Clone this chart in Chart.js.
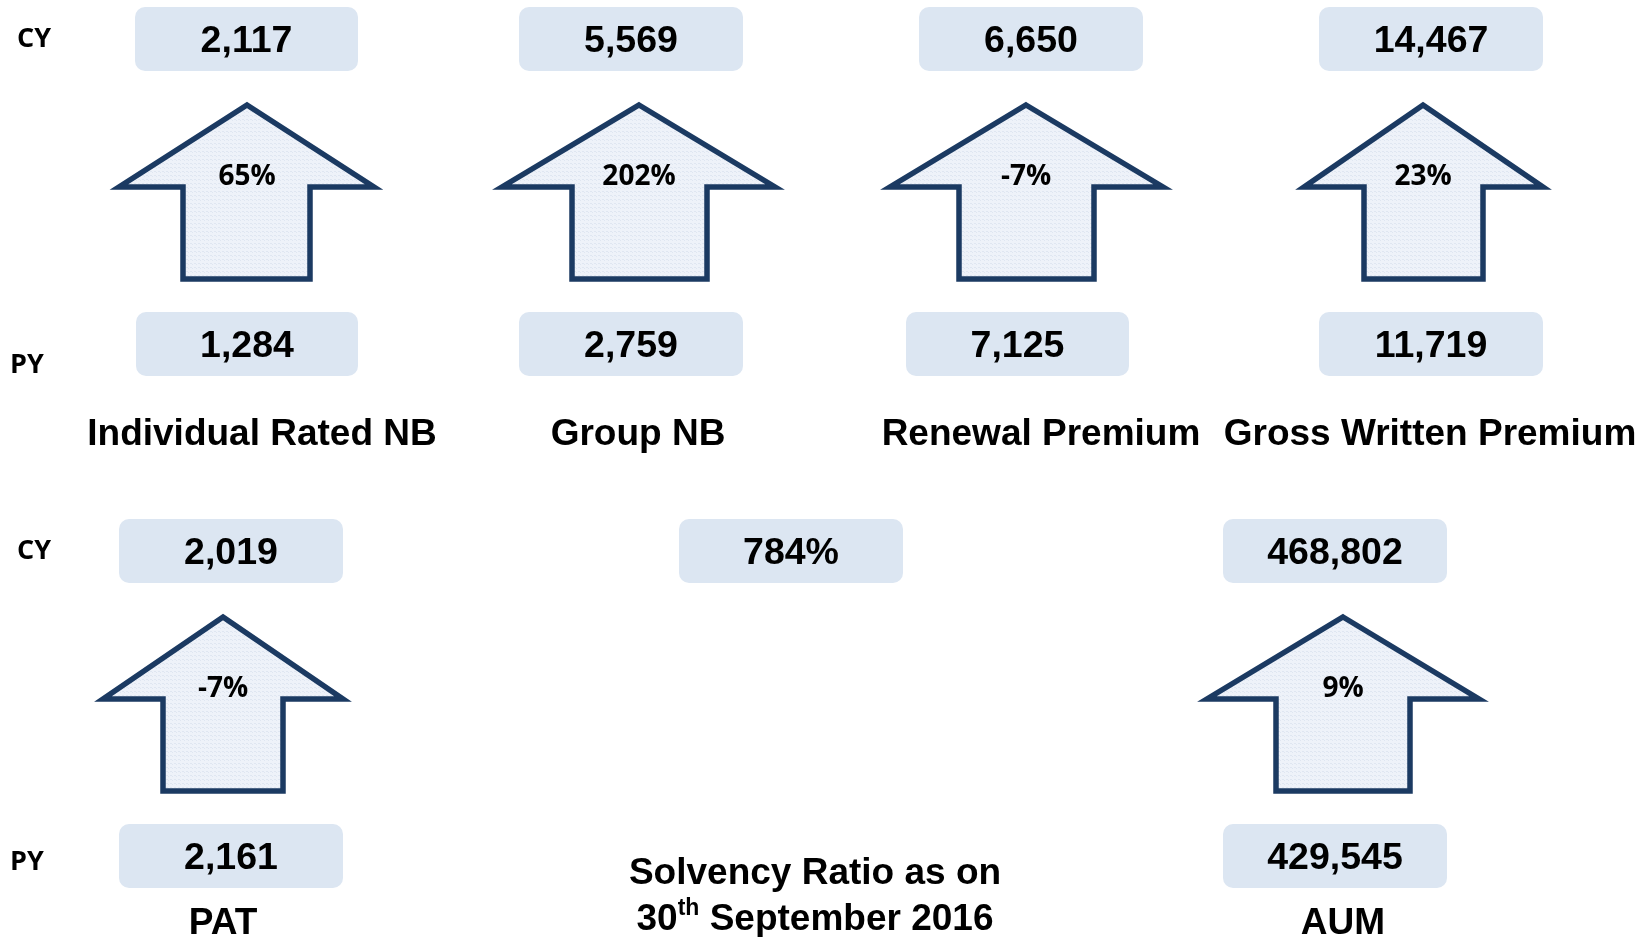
<!DOCTYPE html>
<html>
<head>
<meta charset="utf-8">
<script src="https://cdn.jsdelivr.net/npm/chart.js@4"></script>
<style>
  body { margin: 0; background: #fff; }
  #wrap { width: 1648px; height: 937px; }
</style>
</head>
<body>
<div id="wrap"><canvas id="kpi" width="1648" height="937"></canvas></div>
<script>
// Data
const metrics = ['Individual Rated NB', 'Group NB', 'Renewal Premium', 'Gross Written Premium', 'PAT', 'Solvency', 'AUM'];
const cyValues = [2117, 5569, 6650, 14467, 2019, null, 468802];
const pyValues = [1284, 2759, 7125, 11719, 2161, null, 429545];
const growthPct = [65, 202, -7, 23, -7, null, 9];
const solvencyRatio = 784;
const solvencyTitle = ['Solvency Ratio as on', '30', 'th', ' September 2016'];
const rowLabels = ['CY', 'PY'];

// Layout (page units, mapped through the hidden x/y scales)
const rows = [
  { cyTop: 7, pyTop: 312, tip: 105, headBase: 187, bottom: 279, titleY: 435, cyLab: 39, pyLab: 365 },
  { cyTop: 519, pyTop: 824, tip: 617, headBase: 699, bottom: 791, titleY: 924, cyLab: 551, pyLab: 862 }
];
const panels = [
  { row: 0, cy: [135, 358], py: [136, 358], tip: 247, head: [119, 374], shaft: [183, 310], titleX: 262 },
  { row: 0, cy: [519, 743], py: [519, 743], tip: 639, head: [502, 775], shaft: [572, 707], titleX: 638 },
  { row: 0, cy: [919, 1143], py: [906, 1129], tip: 1026, head: [890, 1163], shaft: [959, 1094], titleX: 1041 },
  { row: 0, cy: [1319, 1543], py: [1319, 1543], tip: 1423, head: [1304, 1543], shaft: [1364, 1483], titleX: 1430 },
  { row: 1, cy: [119, 343], py: [119, 343], tip: 223, head: [103, 343], shaft: [163, 283], titleX: 223 },
  { row: 1, cy: [679, 903], py: null, tip: null, titleX: 815 },
  { row: 1, cy: [1223, 1447], py: [1223, 1447], tip: 1343, head: [1207, 1479], shaft: [1276, 1410], titleX: 1343 }
];
const BOX_H = 64;
const ARIAL = '"Liberation Sans", Arial, sans-serif';

const fmt = v => v.toLocaleString('en-US');

function makePattern(ctx) {
  const c = document.createElement('canvas');
  c.width = 4; c.height = 4;
  const p = c.getContext('2d');
  p.fillStyle = '#eef2f9';
  p.fillRect(0, 0, 4, 4);
  p.fillStyle = '#dfe6f1';
  p.fillRect(0, 0, 1, 1);
  p.fillRect(2, 3, 4, 1);
  return ctx.createPattern(c, 'repeat');
}

const infographic = {
  id: 'infographic',
  afterDraw(chart) {
    const ctx = chart.ctx;
    const X = v => chart.scales.x.getPixelForValue(v);
    const Y = v => chart.scales.y.getPixelForValue(v);
    const pattern = makePattern(ctx);

    function box(x0, x1, top, text) {
      ctx.fillStyle = '#dce6f2';
      ctx.beginPath();
      ctx.roundRect(X(x0), Y(top), X(x1) - X(x0), Y(top + BOX_H) - Y(top), 10);
      ctx.fill();
      ctx.fillStyle = '#000';
      ctx.font = 'bold 37.5px ' + ARIAL;
      ctx.textAlign = 'center';
      ctx.textBaseline = 'middle';
      ctx.fillText(text, X((x0 + x1) / 2), Y(top + BOX_H / 2 + 3));
    }

    ctx.save();
    // CY / PY row labels
    ctx.fillStyle = '#000';
    ctx.font = 'bold 27px "Open Sans", sans-serif';
    ctx.textAlign = 'left';
    ctx.textBaseline = 'middle';
    rows.forEach(r => {
      ctx.fillText(rowLabels[0], X(17), Y(r.cyLab));
      ctx.fillText(rowLabels[1], X(10), Y(r.pyLab));
    });

    panels.forEach((p, i) => {
      const r = rows[p.row];
      if (cyValues[i] !== null) box(p.cy[0], p.cy[1], r.cyTop, fmt(cyValues[i]));
      else box(p.cy[0], p.cy[1], r.cyTop, solvencyRatio + '%');
      if (p.py) box(p.py[0], p.py[1], r.pyTop, fmt(pyValues[i]));

      if (p.tip !== null) {
        ctx.beginPath();
        ctx.moveTo(X(p.tip), Y(r.tip));
        ctx.lineTo(X(p.head[1]), Y(r.headBase));
        ctx.lineTo(X(p.shaft[1]), Y(r.headBase));
        ctx.lineTo(X(p.shaft[1]), Y(r.bottom));
        ctx.lineTo(X(p.shaft[0]), Y(r.bottom));
        ctx.lineTo(X(p.shaft[0]), Y(r.headBase));
        ctx.lineTo(X(p.head[0]), Y(r.headBase));
        ctx.closePath();
        ctx.fillStyle = pattern;
        ctx.fill();
        ctx.lineWidth = 5.5;
        ctx.lineJoin = 'miter';
        ctx.strokeStyle = '#1b3a62';
        ctx.stroke();

        ctx.fillStyle = '#000';
        ctx.font = 'bold 28px "Open Sans", sans-serif';
        ctx.textAlign = 'center';
        ctx.textBaseline = 'middle';
        ctx.fillText(growthPct[i] + '%', X(p.tip), Y(r.headBase - 10));
      }

      // titles
      ctx.fillStyle = '#000';
      ctx.font = 'bold 37px ' + ARIAL;
      ctx.textBaseline = 'middle';
      if (metrics[i] === 'Solvency') {
        ctx.textAlign = 'center';
        ctx.fillText(solvencyTitle[0], X(p.titleX), Y(874));
        const big = 'bold 37px ' + ARIAL;
        const sup = 'bold 23px ' + ARIAL;
        ctx.font = big;
        const w1 = ctx.measureText(solvencyTitle[1]).width;
        const w3 = ctx.measureText(solvencyTitle[3]).width;
        ctx.font = sup;
        const w2 = ctx.measureText(solvencyTitle[2]).width;
        let x = X(p.titleX) - (w1 + w2 + w3) / 2;
        ctx.textAlign = 'left';
        ctx.font = big;
        ctx.fillText(solvencyTitle[1], x, Y(920));
        ctx.font = sup;
        ctx.fillText(solvencyTitle[2], x + w1, Y(909));
        ctx.font = big;
        ctx.fillText(solvencyTitle[3], x + w1 + w2, Y(920));
      } else {
        ctx.textAlign = 'center';
        ctx.fillText(metrics[i], X(p.titleX), Y(r.titleY));
      }
    });
    ctx.restore();
  }
};

new Chart(document.getElementById('kpi').getContext('2d'), {
  type: 'scatter',
  data: { datasets: [{ data: [], pointRadius: 0 }] },
  options: {
    responsive: false,
    animation: false,
    layout: { padding: 0 },
    plugins: { legend: { display: false }, tooltip: { enabled: false } },
    scales: {
      x: { type: 'linear', min: 0, max: 1648, display: false },
      y: { type: 'linear', min: 0, max: 937, reverse: true, display: false }
    }
  },
  plugins: [infographic]
});
</script>
</body>
</html>
